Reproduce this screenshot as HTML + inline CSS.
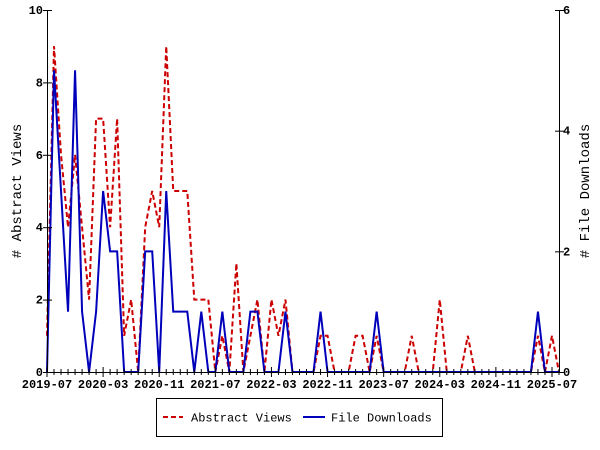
<!DOCTYPE html>
<html><head><meta charset="utf-8"><style>
body{margin:0;background:#fff;}
svg{display:block;font-family:"Liberation Mono","DejaVu Sans Mono",monospace;}
</style></head><body>
<svg id="chart" width="600" height="450" viewBox="0 0 600 450" xmlns="http://www.w3.org/2000/svg">
<rect x="0" y="0" width="600" height="450" fill="#fff"/>
<g id="grid"></g>
<g id="series"></g>
<g id="axes"></g>
<text transform="translate(21,191) rotate(-90)" text-anchor="middle" font-size="14">#&#160;Abstract&#160;Views</text>
<text transform="translate(589,191) rotate(-90)" text-anchor="middle" font-size="14">#&#160;File&#160;Downloads</text>
<g>
<rect x="156.5" y="398.5" width="286" height="38" fill="#fff" stroke="#000" stroke-width="1"/>
<line x1="163" y1="417" x2="183" y2="417" stroke="#cc0000" stroke-width="2" stroke-dasharray="5,3"/>
<text x="191" y="421.5" font-size="12">Abstract Views</text>
<line x1="303" y1="417" x2="325" y2="417" stroke="#0000bb" stroke-width="2"/>
<text x="331" y="421.5" font-size="12">File Downloads</text>
</g>
</svg>
<script>
// month index 0 = 2019-07
const views = [1,9,6,4,6,4,2,7,7,4,7,1,2,0,4,5,4,9,5,5,5,2,2,2,0,1,0,3,0,1,2,0,2,1,2,0,0,0,0,1,1,0,0,0,1,1,0,1,0,0,0,0,1,0,0,0,2,0,0,0,1,0,0,0,0,0,0,0,0,0,1,0,1,0];
const downloads = [0,5,3,1,5,1,0,1,3,2,2,0,0,0,2,2,0,3,1,1,1,0,1,0,0,1,0,0,0,1,1,0,0,0,1,0,0,0,0,1,0,0,0,0,0,0,0,1,0,0,0,0,0,0,0,0,0,0,0,0,0,0,0,0,0,0,0,0,0,0,1,0,0,0];
const xTickLabels = ["2019-07","2020-03","2020-11","2021-07","2022-03","2022-11","2023-07","2024-03","2024-11","2025-07"];
const leftTicks = [0,2,4,6,8,10];
const rightTicks = [0,2,4,6];

const X0=47, X1=559, Y0=372, Y1=10, NM=73;
const xs = m => X0 + (X1-X0)*m/NM;
const yL = v => Y0 - (Y0-Y1)*v/10;
const yR = v => Y0 - (Y0-Y1)*v/6;
const NS="http://www.w3.org/2000/svg";
function mk(tag, attrs, parent){const e=document.createElementNS(NS,tag);for(const k in attrs)e.setAttribute(k,attrs[k]);parent.appendChild(e);return e;}
const ser=document.getElementById('series'), ax=document.getElementById('axes');

const pv = mk('polyline',{points:views.map((v,i)=>xs(i)+','+yL(v)).join(' '),fill:'none',stroke:'#cc0000','stroke-width':2,'stroke-dasharray':'5,3'},ser);


const pd = mk('polyline',{points:downloads.map((v,i)=>xs(i)+','+yR(v)).join(' '),fill:'none',stroke:'#0000bb','stroke-width':2},ser);



const frame = mk('path',{d:`M${X0+.5},${Y1} V${Y0+.5} H${X1+.5} V${Y1}`,fill:'none',stroke:'#000','stroke-width':1},ax);



for(let m=0;m<=NM;m++){
  const major = m%8===0;
  const t = mk('line',{x1:xs(m),x2:xs(m),y1:Y0-(major?5:3),y2:Y0+(major?5:3),stroke:'#000','stroke-width':1},ax);
  
  
}
xTickLabels.forEach((s,i)=>{
  const t = mk('text',{x:xs(i*8),y:388,'text-anchor':'middle','font-size':12,'font-weight':'bold'},ax);
  t.textContent=s;
  
  
});
leftTicks.forEach(v=>{
  const l = mk('line',{x1:X0-4,x2:X0+5,y1:yL(v)+.5,y2:yL(v)+.5,stroke:'#000'},ax);
  
  
  const t = mk('text',{x:X0-4,y:yL(v)+4,'text-anchor':'end','font-size':12,'font-weight':'bold'},ax);
  t.textContent=v;
  
  
});
rightTicks.forEach(v=>{
  const l = mk('line',{x1:X1-4,x2:X1+5,y1:yR(v)+.5,y2:yR(v)+.5,stroke:'#000'},ax);
  
  
  const t = mk('text',{x:X1+4,y:yR(v)+4,'text-anchor':'start','font-size':12,'font-weight':'bold'},ax);
  t.textContent=v;
  
  
});
</script>
</body></html>
